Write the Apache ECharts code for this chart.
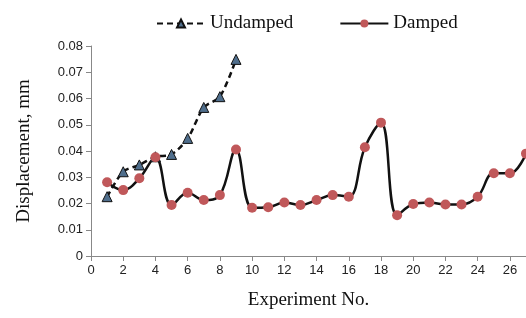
<!DOCTYPE html>
<html><head><meta charset="utf-8">
<script src="https://cdn.jsdelivr.net/npm/echarts@6/dist/echarts.min.js"></script>
<style>html,body{margin:0;padding:0;background:#fff}#c{width:526px;height:318px}</style>
</head><body><div id="c"></div>
<script>
var undampedX = [1,2,3,4,5,6,7,8,9];
var undampedY = [0.0226,0.0321,0.0347,0.0378,0.0387,0.0448,0.0566,0.0607,0.0749];
var dampedX = [1,2,3,4,5,6,7,8,9,10,11,12,13,14,15,16,17,18,19,20,21,22,23,24,25,26,27];
var dampedY = [0.0281,0.0251,0.0296,0.0376,0.0194,0.0241,0.0213,0.0232,0.0406,0.0184,0.0186,0.0204,0.0194,0.0213,0.0232,0.0226,0.0414,0.0508,0.0155,0.0198,0.0204,0.0196,0.0196,0.0226,0.0315,0.0315,0.039];
function pairs(xs, ys){ return xs.map(function(x,i){return [x, ys[i]];}); }
var chart = echarts.init(document.getElementById('c'));
chart.setOption({
  animation:false,
  legend:{top:9,left:151,itemGap:46,itemWidth:48,itemHeight:10,
    textStyle:{fontFamily:'Liberation Serif',fontSize:19,color:'#111'},
    data:['Undamped','Damped']},
  grid:{left:91,right:0,top:46,bottom:62,containLabel:false},
  xAxis:{type:'value',min:0,max:27,interval:2,
    name:'Experiment No.',nameLocation:'middle',nameGap:35,
    nameTextStyle:{fontFamily:'Liberation Serif',fontSize:19,color:'#111'},
    axisLine:{lineStyle:{color:'#888'}},axisTick:{show:true,lineStyle:{color:'#888'}},
    splitLine:{show:false},
    axisLabel:{fontFamily:'Liberation Sans',fontSize:13,color:'#222',showMaxLabel:false}},
  yAxis:{type:'value',min:0,max:0.08,interval:0.01,
    name:'Displacement, mm',nameLocation:'middle',nameGap:57,
    nameTextStyle:{fontFamily:'Liberation Serif',fontSize:19,color:'#111'},
    axisLine:{show:true,lineStyle:{color:'#888'}},axisTick:{show:true,lineStyle:{color:'#888'}},
    splitLine:{show:false},
    axisLabel:{fontFamily:'Liberation Sans',fontSize:13,color:'#222',
      formatter:function(v){return v===0?'0':v.toFixed(2);}}},
  series:[
    {name:'Undamped',type:'line',smooth:0.3,data:pairs(undampedX,undampedY),
     symbol:'triangle',symbolSize:10,
     lineStyle:{color:'#111',width:2.5,type:[6,4]},
     itemStyle:{color:'#4f6e8c',borderColor:'#111',borderWidth:1}},
    {name:'Damped',type:'line',smooth:0.4,data:pairs(dampedX,dampedY),
     symbol:'circle',symbolSize:10,
     lineStyle:{color:'#111',width:2.5},
     itemStyle:{color:'#c0585a',borderColor:'#c0585a',borderWidth:0}}
  ]
});
</script></body></html>
